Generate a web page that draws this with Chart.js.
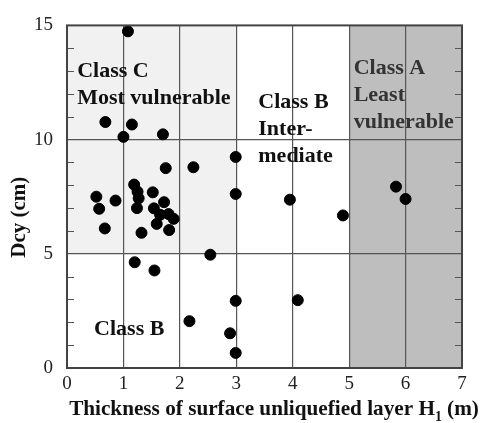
<!DOCTYPE html>
<html>
<head>
<meta charset="utf-8">
<script src="https://cdn.jsdelivr.net/npm/chart.js@4.4.1/dist/chart.umd.min.js"></script>
<style>
html,body{margin:0;padding:0;background:#fff;}
canvas{display:block;}
</style>
</head>
<body>
<canvas id="c" width="482" height="423"></canvas>
<script>
// ---- data ----
const thicknessH1 = [1.08,0.68,1.15,1.00,1.70,2.99,2.24,1.75,1.19,0.52,0.86,0.57,0.67,1.25,1.27,1.24,1.52,1.72,1.32,1.54,1.59,1.65,1.80,1.89,1.81,2.99,3.95,4.89,5.83,6.00,2.54,1.20,1.55,2.99,4.09,2.17,2.89,2.99];
const dcy        = [14.74,10.77,10.66,10.12,10.23,9.24,8.79,8.75,8.03,7.50,7.33,6.97,6.11,7.72,7.43,7.00,7.69,7.26,5.92,6.99,6.31,6.71,6.74,6.53,6.04,7.62,7.37,6.68,7.94,7.40,4.96,4.63,4.27,2.94,2.97,2.05,1.52,0.66];
const xTicks = [0,1,2,3,4,5,6,7];
const yTickLabels = [0,5,10,15];
const yTitle = 'Dcy (cm)';
const xTitleParts = ['Thickness of surface unliquefied layer H', '1', ' (m)'];
const regionLabels = [
  {lines:['Class C','Most vulnerable'], x:0.18, y:13.0},
  {lines:['Class B','Inter-','mediate'], x:3.39, y:11.63},
  {lines:['Class A','Least','vulnerable'], x:5.08, y:13.1},
  {lines:['Class B'], x:0.48, y:1.71}
];
const regions = [
  {x0:0, x1:3, y0:5, y1:15, kind:'light'},
  {x0:5, x1:7, y0:0, y1:15, kind:'dark'}
];

const points = thicknessH1.map((x,i)=>({x:x, y:dcy[i]}));

const bgPlugin = {
  id:'bg',
  beforeDraw(chart){
    const {ctx, scales:{x,y}} = chart;
    ctx.save();
    regions.forEach(r=>{
      ctx.fillStyle = r.kind==='light' ? '#f1f1f1' : '#bebebe';
      const px0 = x.getPixelForValue(r.x0), px1 = x.getPixelForValue(r.x1);
      const py0 = y.getPixelForValue(r.y0), py1 = y.getPixelForValue(r.y1);
      ctx.fillRect(px0, py1, px1-px0, py0-py1);
    });
    ctx.restore();
  },
  afterDatasetsDraw(chart){
    const {ctx, chartArea:a, scales:{x,y}} = chart;
    ctx.save();
    // inner tick marks
    ctx.strokeStyle = '#555';
    ctx.lineWidth = 1.2;
    for(let v=1; v<15; v++){
      if(v%5===0) continue;
      const py = Math.round(y.getPixelForValue(v))+0.5;
      ctx.beginPath();
      ctx.moveTo(a.left, py); ctx.lineTo(a.left+7, py);
      ctx.moveTo(a.right-7, py); ctx.lineTo(a.right, py);
      ctx.stroke();
    }
    // frame
    ctx.strokeStyle = '#444';
    ctx.lineWidth = 2;
    ctx.strokeRect(a.left, a.top, a.right-a.left, a.bottom-a.top);
    // region labels
    ctx.font = 'bold 22px "Liberation Serif"';
    ctx.textBaseline = 'middle';
    ctx.textAlign = 'left';
    regionLabels.forEach(l=>{
      ctx.fillStyle = l.x > 5 ? '#333' : '#111';
      const px = x.getPixelForValue(l.x);
      l.lines.forEach((t,k)=>{
        const py = y.getPixelForValue(l.y) + k*27;
        ctx.fillText(t, px, py);
      });
    });
    // x axis title with subscript, sized to span like the reference
    ctx.fillStyle = '#111';
    const f = (s)=>'bold ' + s + 'px "Liberation Serif"';
    ctx.font = f(20);
    const m0 = ctx.measureText(xTitleParts[0]).width + ctx.measureText(xTitleParts[2]).width;
    ctx.font = f(13);
    const m1 = ctx.measureText(xTitleParts[1]).width;
    const scale = 410 / (m0 + m1);
    const mainSize = 20*scale, subSize = 13*scale;
    ctx.font = f(mainSize); const w0 = ctx.measureText(xTitleParts[0]).width;
    const w2 = ctx.measureText(xTitleParts[2]).width;
    ctx.font = f(subSize); const w1 = ctx.measureText(xTitleParts[1]).width;
    let tx = 274 - (w0+w1+w2)/2;
    const ty = 410;
    ctx.textAlign = 'left';
    ctx.textBaseline = 'middle';
    ctx.font = f(mainSize); ctx.fillText(xTitleParts[0], tx, ty); tx += w0;
    ctx.font = f(subSize); ctx.fillText(xTitleParts[1], tx, ty + 7); tx += w1;
    ctx.font = f(mainSize); ctx.fillText(xTitleParts[2], tx, ty);
    // y axis title (placed like the reference, a bit below the axis middle)
    ctx.font = 'bold 21px "Liberation Serif"';
    ctx.textAlign = 'center';
    ctx.translate(20, y.getPixelForValue(6.6));
    ctx.rotate(-Math.PI/2);
    ctx.fillText(yTitle, 0, 0);
    ctx.restore();
  }
};

new Chart(document.getElementById('c'), {
  type:'scatter',
  data:{datasets:[{
    data:points,
    backgroundColor:'#000',
    borderColor:'#000',
    pointRadius:5.5,
    pointHoverRadius:5.5
  }]},
  options:{
    responsive:false,
    animation:false,
    events:[],
    layout:{padding:{top:19,right:20,left:0,bottom:0}},
    plugins:{legend:{display:false},tooltip:{enabled:false}},
    scales:{
      x:{
        type:'linear', min:0, max:7,
        afterBuildTicks(s){ s.ticks = xTicks.map(v=>({value:v})); },
        afterFit(s){ s.height = 55; },
        grid:{
          drawTicks:false,
          color:(c)=> (c.tick && c.tick.value>0 && c.tick.value<7) ? '#555' : 'rgba(0,0,0,0)',
          lineWidth:1.2
        },
        border:{display:false},
        ticks:{padding:5, color:'#222', font:{family:'Liberation Serif', size:19}},
        title:{display:false}
      },
      y:{
        type:'linear', min:0, max:15,
        afterBuildTicks(s){ s.ticks = yTickLabels.map(v=>({value:v})); },
        afterFit(s){ s.width = 67; },
        grid:{
          drawTicks:false,
          color:(c)=> (c.tick && c.tick.value>0 && c.tick.value<15) ? '#555' : 'rgba(0,0,0,0)',
          lineWidth:1.2
        },
        border:{display:false},
        ticks:{padding:14, color:'#222', font:{family:'Liberation Serif', size:19}},
        title:{display:false}
      }
    }
  },
  plugins:[bgPlugin]
});
</script>
</body>
</html>
